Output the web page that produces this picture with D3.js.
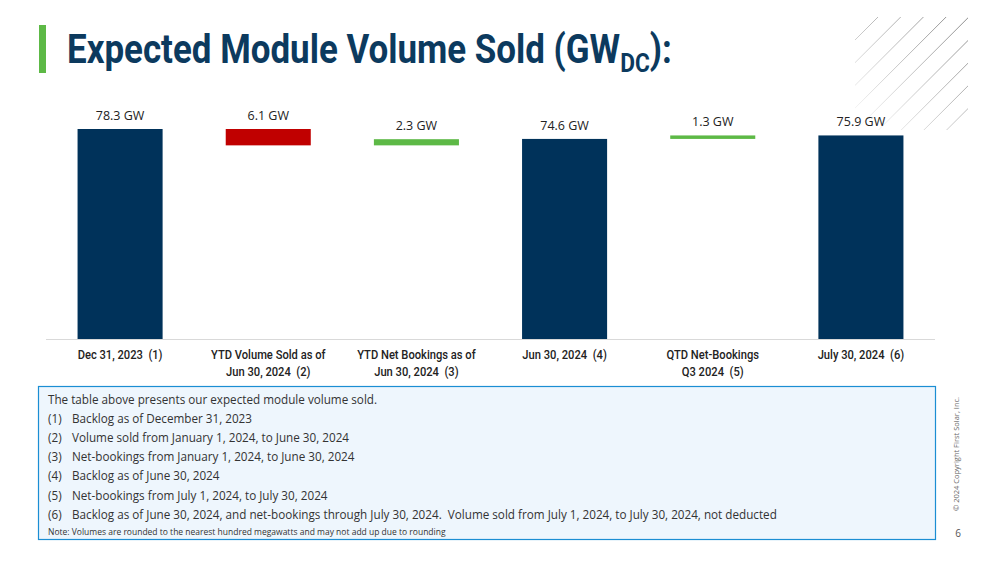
<!DOCTYPE html>
<html>
<head>
<meta charset="utf-8">
<script src="https://cdn.jsdelivr.net/npm/d3@7"></script>
<style>
  body { margin:0; background:#fff; }
  svg { display:block; }
  text { white-space: pre; }
</style>
</head>
<body>
<div id="chart"></div>
<script>
(function drawingWaterfall(){

  // chart data
  var categories = [
    ["Dec 31, 2023  (1)"],
    ["YTD Volume Sold as of", "Jun 30, 2024  (2)"],
    ["YTD Net Bookings as of", "Jun 30, 2024  (3)"],
    ["Jun 30, 2024  (4)"],
    ["QTD Net-Bookings", "Q3 2024  (5)"],
    ["July 30, 2024  (6)"]
  ];
  var values = [78.3, -6.1, 2.3, 74.6, 1.3, 75.9];
  var kinds = ["total", "delta", "delta", "total", "delta", "total"];
  var valueLabels = ["78.3 GW", "6.1 GW", "2.3 GW", "74.6 GW", "1.3 GW", "75.9 GW"];

  var notes = [
    ["", "The table above presents our expected module volume sold."],
    ["(1)", "Backlog as of December 31, 2023"],
    ["(2)", "Volume sold from January 1, 2024, to June 30, 2024"],
    ["(3)", "Net-bookings from January 1, 2024, to June 30, 2024"],
    ["(4)", "Backlog as of June 30, 2024"],
    ["(5)", "Net-bookings from July 1, 2024, to July 30, 2024"],
    ["(6)", "Backlog as of June 30, 2024, and net-bookings through July 30, 2024.  Volume sold from July 1, 2024, to July 30, 2024, not deducted"]
  ];
  var footnote = "Note: Volumes are rounded to the nearest hundred megawatts and may not add up due to rounding";

  var W = 1000, H = 563;
  var navy = "#00325a", red = "#c00000", green = "#5db946";

  var svg = d3.select("#chart")
    .append("svg")
      .attr("width", W)
      .attr("height", H);

  // decorative hatch, top right
  var defs = svg.append("defs");
  var grad = defs.append("linearGradient")
    .attr("id", "hatchGrad")
    .attr("gradientUnits", "userSpaceOnUse")
    .attr("x1", 855).attr("y1", 130).attr("x2", 968).attr("y2", 17);
  grad.append("stop").attr("offset", "0%").attr("stop-color", "#ffffff");
  grad.append("stop").attr("offset", "100%").attr("stop-color", "#8a8a8a");
  defs.append("clipPath").attr("id", "hatchClip")
    .append("rect").attr("x", 855).attr("y", 17).attr("width", 113).attr("height", 113);

  var hatch = svg.append("g").attr("clip-path", "url(#hatchClip)");
  for (var k = 0; k < 10; k++) {
    var c = 895 + 22.7 * k;
    hatch.append("line")
      .attr("x1", c - 17).attr("y1", 17)
      .attr("x2", c - 140).attr("y2", 140)
      .attr("stroke", "url(#hatchGrad)")
      .attr("stroke-width", 1);
  }

  // squeeze a text horizontally so it spans the wanted width
  function condense(sel, x0, targetW){
    var w = sel.node().getComputedTextLength();
    var s = Math.min(1, targetW / w);
    sel.attr("transform", "translate(" + x0 + ",0)scale(" + s + ",1)translate(" + (-x0) + ",0)");
  }

  // title
  svg.append("rect")
    .attr("x", 39).attr("y", 25).attr("width", 7).attr("height", 48)
    .attr("fill", green);

  var title = svg.append("text")
    .attr("x", 67).attr("y", 63)
    .attr("font-family", "Roboto, sans-serif")
    .attr("font-weight", "bold")
    .attr("font-size", "40px")
    .attr("fill", "#0c3a5e");
  title.append("tspan").text("Expected Module Volume Sold (GW");
  title.append("tspan").attr("font-size", "26px").attr("dy", 9).text("DC");
  title.append("tspan").attr("dy", -9).text("):");
  condense(title, 67, 605);

  // chart
  var margin = {left:46, right:65, top:100, bottom:224};
  var width = W - margin.left - margin.right;
  var baseY = H - margin.bottom;

  var x = d3.scaleBand()
    .domain(d3.range(values.length))
    .range([margin.left, margin.left + width])
    .paddingInner(0.426)
    .paddingOuter(0.213);

  var y = d3.scaleLinear()
    .domain([0, 78.3])
    .range([baseY, baseY - 210]);

  // running totals for the floating bars
  var bars = [];
  var running = 0;
  values.forEach(function(v, i){
    if (kinds[i] == "total") {
      bars.push({i:i, y0:0, y1:v, color:navy});
      running = v;
    } else {
      var start = running;
      running = running + v;
      bars.push({i:i, y0:Math.min(start, running), y1:Math.max(start, running), color: v < 0 ? red : green});
    }
  });

  svg.append("line")
    .attr("x1", margin.left).attr("x2", margin.left + width)
    .attr("y1", baseY + 0.5).attr("y2", baseY + 0.5)
    .attr("stroke", "#d9d9d9")
    .attr("stroke-width", 1);

  svg.selectAll(".bar")
    .data(bars)
    .enter().append("rect")
      .attr("class", "bar")
      .attr("x", function(d){ return x(d.i); })
      .attr("width", x.bandwidth())
      .attr("y", function(d){ return y(d.y1); })
      .attr("height", function(d){ return y(d.y0) - y(d.y1); })
      .attr("fill", function(d){ return d.color; });

  svg.selectAll(".vlabel")
    .data(bars)
    .enter().append("text")
      .attr("class", "vlabel")
      .attr("x", function(d){ return x(d.i) + x.bandwidth() / 2; })
      .attr("y", function(d){ return y(d.y1) - 9; })
      .attr("text-anchor", "middle")
      .attr("font-family", "'Open Sans', sans-serif")
      .attr("font-size", "12.5px")
      .attr("fill", "#222")
      .text(function(d){ return valueLabels[d.i]; });

  // category labels, each line squeezed like a narrow face
  categories.forEach(function(lines, i){
    var cx = x(i) + x.bandwidth() / 2;
    lines.forEach(function(line, j){
      svg.append("text")
        .attr("class", "xlabel")
        .attr("x", cx)
        .attr("y", baseY + 20 + j * 17)
        .attr("text-anchor", "middle")
        .attr("font-family", "Roboto, sans-serif")
        .attr("font-weight", 500)
        .attr("font-size", "13px")
        .attr("fill", "#222")
        .attr("transform", "translate(" + cx + ",0)scale(0.86,1)translate(" + (-cx) + ",0)")
        .text(line);
    });
  });

  // notes box
  svg.append("rect")
    .attr("x", 38.5).attr("y", 386.5).attr("width", 897).attr("height", 153)
    .attr("fill", "#eef6fd")
    .attr("stroke", "#1b8ed3")
    .attr("stroke-width", 1.2);

  var nt = svg.selectAll(".note")
    .data(notes)
    .enter().append("g")
      .attr("class", "note")
      .attr("transform", function(d, i){ return "translate(0," + (404 + i * 19.1) + ")"; });
  nt.append("text")
    .attr("x", 48)
    .attr("font-family", "'Open Sans', sans-serif")
    .attr("font-size", "11.7px")
    .attr("fill", "#333")
    .text(function(d){ return d[0]; });
  nt.append("text")
    .attr("x", function(d){ return d[0] ? 72 : 48; })
    .attr("font-family", "'Open Sans', sans-serif")
    .attr("font-size", "11.7px")
    .attr("fill", "#333")
    .text(function(d){ return d[1]; });

  svg.append("text")
    .attr("x", 48).attr("y", 535)
    .attr("font-family", "'Open Sans', sans-serif")
    .attr("font-size", "8.5px")
    .attr("fill", "#333")
    .text(footnote);

  // side text
  svg.append("text")
    .attr("transform", "translate(959,511)rotate(-90)")
    .attr("font-family", "'Open Sans', sans-serif")
    .attr("font-size", "7.5px")
    .attr("fill", "#666")
    .text("© 2024 Copyright First Solar, Inc.");

  svg.append("text")
    .attr("x", 958).attr("y", 537)
    .attr("text-anchor", "middle")
    .attr("font-family", "'Open Sans', sans-serif")
    .attr("font-size", "10px")
    .attr("fill", "#555")
    .text("6");

})();
</script>
</body>
</html>
